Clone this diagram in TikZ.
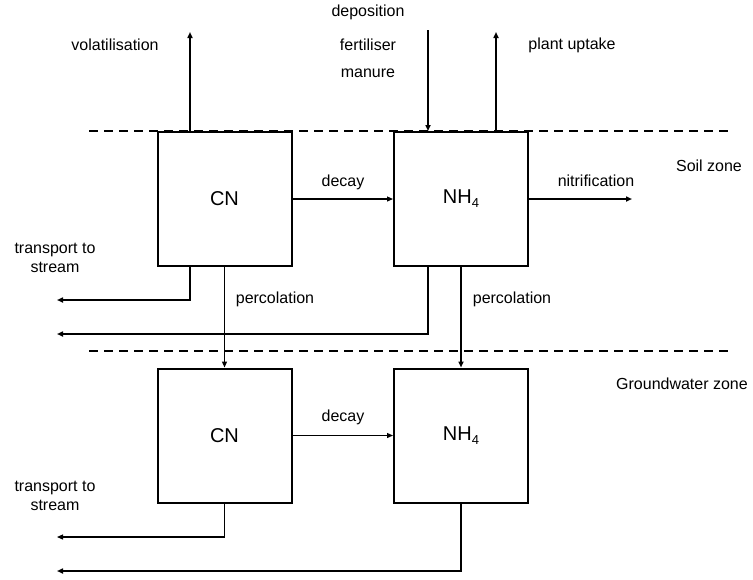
\documentclass[tikz,border=0pt]{standalone}
\usepackage{fontspec}
\setmainfont{Liberation Sans}
\usetikzlibrary{arrows.meta}
\newcommand{\subfour}{\raisebox{-0.4ex}{\fontsize{13}{14}\selectfont 4}}
\begin{document}
\begin{tikzpicture}[x=1pt,y=1pt,yscale=-1,xscale=1,
    box/.style={draw,line width=2pt,minimum width=134pt,minimum height=134pt,inner sep=0pt,font=\fontsize{20}{24}\selectfont},
    lbl/.style={inner sep=0.75pt,font=\fontsize{16}{19.5}\selectfont,align=center},
    flow/.style={line width=2pt,-{Triangle[length=6pt,width=5pt]}},
    midflow/.style={line width=1.5pt,-{Triangle[length=6pt,width=5pt]}},
    thinflow/.style={line width=1.2pt,-{Triangle[length=6pt,width=5pt]}},
    zone/.style={line width=1.3pt,dash pattern={on 9pt off 6pt}}]
\useasboundingbox (0,0) rectangle (753,579);
                %Straight Lines [id:soil]
                \draw [zone] (89,131) -- (733,131) ;
                %Straight Lines [id:groundwater]
                \draw [zone] (89,351) -- (733,351) ;

                %Shape: Rectangle [id:cnS]
                \node [box] (cnS) at (224.5,199) {CN};
                %Shape: Rectangle [id:nhS]
                \node [box] (nhS) at (461,199) {NH\subfour};
                %Shape: Rectangle [id:cnG]
                \node [box] (cnG) at (224.5,435.5) {CN};
                %Shape: Rectangle [id:nhG]
                \node [box] (nhG) at (461,435.5) {NH\subfour};

                % free ends
                \coordinate (volEnd) at (190,32);
                \coordinate (depStart) at (428,30);
                \coordinate (upEnd) at (496,32);
                \coordinate (nitEnd) at (632,199);
                \coordinate (trEnd) at (57,300);
                \coordinate (lossEnd) at (57,334);
                \coordinate (gtrEnd) at (57,537);
                \coordinate (glossEnd) at (57,571);

                %Straight Lines [id:volatilisation]
                \draw [flow] (cnS.north -| volEnd) -- (volEnd) ;
                %Straight Lines [id:deposition]
                \draw [flow] (depStart) -- (depStart |- nhS.north) ;
                %Straight Lines [id:uptake]
                \draw [flow] (nhS.north -| upEnd) -- (upEnd) ;
                %Straight Lines [id:decayS]
                \draw [thinflow] (cnS) -- (nhS) ;
                %Straight Lines [id:nitrification]
                \draw [flow] (nhS) -- (nitEnd) ;
                %Straight Lines [id:transportS]
                \draw [midflow] (cnS.south -| volEnd) |- (trEnd) ;
                %Straight Lines [id:lossS]
                \draw [flow] (nhS.south -| depStart) |- (lossEnd) ;
                %Straight Lines [id:percCN]
                \draw [thinflow] (cnS) -- (cnG) ;
                %Straight Lines [id:percNH]
                \draw [flow] (nhS) -- (nhG) ;
                %Straight Lines [id:decayG]
                \draw [thinflow] (cnG) -- (nhG) ;
                %Straight Lines [id:transportG]
                \draw [thinflow] (cnG.south) |- (gtrEnd) ;
                %Straight Lines [id:lossG]
                \draw [flow] (nhG.south) |- (glossEnd) ;

                % Text Node
                \node [lbl] (tVol) at (115,45) {volatilisation};
                % Text Node
                \node [lbl] (tDep) at (368,12) {deposition};
                % Text Node
                \node [lbl] (tFert) at (368,45) {fertiliser};
                % Text Node
                \node [lbl] (tMan) at (368,73) {manure};
                % Text Node
                \node [lbl] (tUp) at (572,45) {plant uptake};
                % Text Node
                \node [lbl] (tDecS) at (343,182) {decay};
                % Text Node
                \node [lbl] (tNit) at (596,181) {nitrification};
                % Text Node
                \node [lbl] (tSoil) at (709,166) {Soil zone};
                % Text Node
                \node [lbl] (tTrS) at (55,258) {transport to\\stream};
                % Text Node
                \node [lbl] (tPercCN) at (275,299) {percolation};
                % Text Node
                \node [lbl] (tPercNH) at (512,299) {percolation};
                % Text Node
                \node [lbl] (tGw) at (682,384) {Groundwater zone};
                % Text Node
                \node [lbl] (tDecG) at (343,417) {decay};
                % Text Node
                \node [lbl] (tTrG) at (55,496) {transport to\\stream};
\end{tikzpicture}
\end{document}
